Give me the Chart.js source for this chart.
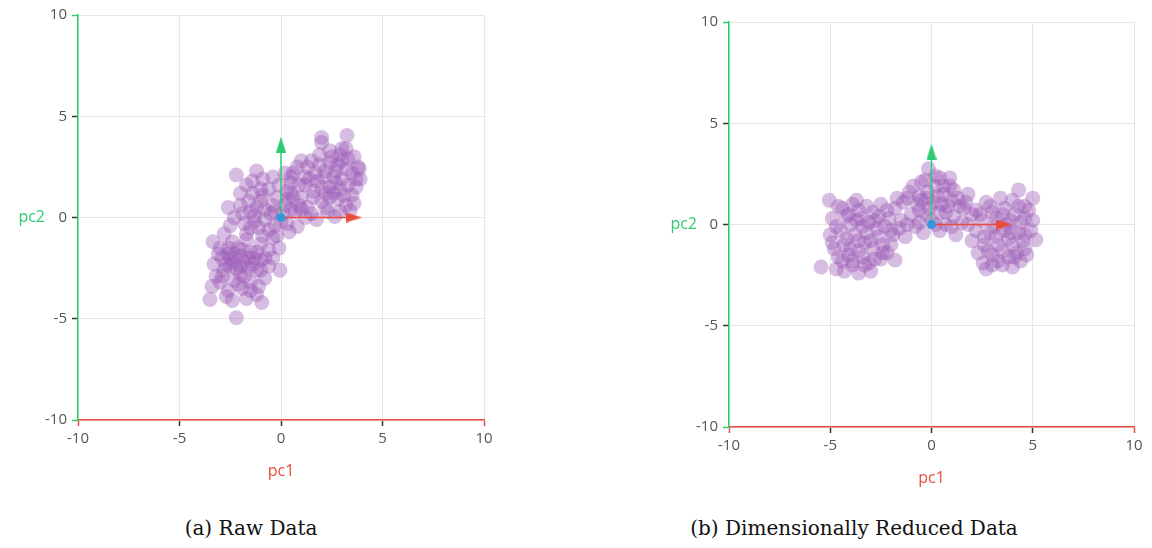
<!DOCTYPE html>
<html>
<head>
<meta charset="utf-8">
<script src="https://cdn.jsdelivr.net/npm/chart.js@4/dist/chart.umd.min.js"></script>
<style>
  body { margin: 0; background: #fff; width: 1152px; height: 548px; overflow: hidden; position: relative; }
  .box { position: absolute; top: 0; width: 500px; height: 500px; }
  .cap { position: absolute; top: 516px; font-family: "DejaVu Serif", serif; font-size: 20px; color: #111; transform: translateX(-50%); white-space: nowrap; }
</style>
</head>
<body>
<div class="box" style="left:0px"><canvas id="rawChart"></canvas></div>
<div class="box" style="left:650px"><canvas id="reducedChart"></canvas></div>
<div class="cap" style="left:251px">(a) Raw Data</div>
<div class="cap" style="left:854px">(b) Dimensionally Reduced Data</div>
<script>
// tick labels (both axes)
const tickValues = [-10, -5, 0, 5, 10];
const axisLabels = ['pc1', 'pc2'];

// (a) raw data, [pc1, pc2]
const rawPoints = [
  [-3.5,-4.05],[-2.2,-4.95],[-0.95,-4.2],[-1.2,-3.8],[-2.6,-3.6],[-1.9,-3.5],[-3.0,-3.2],[-2.3,-3.1],
  [-1.5,-3.2],[-0.8,-3.0],[-3.3,-2.3],[-2.8,-2.6],[-2.0,-2.8],[-1.2,-2.6],[-0.05,-2.6],[-3.35,-1.2],
  [-2.6,-1.8],[-1.8,-2.2],[-1.0,-2.1],[-2.3,-2.2],[-2.9,-2.0],[-1.5,-1.7],[-2.1,-1.5],[-0.6,-1.6],
  [-3.0,-1.5],[-2.4,-1.2],[-1.7,-1.1],[-1.0,-1.3],[-2.8,-0.8],[-0.4,-1.0],[-3.2,-2.9],[-2.5,-2.4],
  [-1.6,-2.5],[-2.0,-1.9],[-1.3,-2.0],[-0.6,-2.4],[-2.7,-3.9],[-1.7,-4.0],[-0.1,-1.5],
  [-2.2,-2.5],[-1.8,-2.9],[-2.5,-2.0],[-1.4,-2.3],[-2.1,-3.3],[-2.9,-2.9],[-1.1,-3.4],[-1.9,-1.6],
  [-2.6,-1.5],[-1.2,-1.7],[-0.8,-2.0],[-2.3,-1.8],[-1.6,-2.0],[-2.0,-2.4],[-2.7,-2.3],[-1.0,-2.6],
  [-3.1,-1.8],[-0.4,-2.0],[-1.5,-3.6],[-2.4,-4.1],[-3.4,-3.4],
  [-2.2,2.1],[-1.2,2.3],[-2.0,0.6],[-1.5,0.3],[-1.0,0.8],[-0.5,0.2],[-1.8,-0.3],[-1.1,-0.5],
  [-0.3,-0.4],[0.3,-0.3],[0.8,-0.45],[-2.3,0.0],[-1.4,1.2],[-0.6,1.4],[0.2,0.6],[0.6,1.0],
  [-0.2,1.0],[-1.7,1.6],[-0.9,1.9],[-2.5,-0.4],[-0.8,-0.1],[0.1,0.2],[-1.3,0.1],[-0.4,0.6],
  [-1.5,-0.5],[-0.9,-0.9],[-0.2,-0.9],[0.4,-0.7],[-1.6,0.8],[-0.8,0.4],[0.0,-0.2],[0.5,0.4],
  [-1.9,0.2],[-1.2,0.5],[-0.3,0.3],[0.9,0.6],[-2.0,1.2],[-1.0,1.4],[-0.1,1.6],[0.5,2.0],
  [-1.4,1.8],[-0.4,2.0],[-2.6,0.5],[-0.6,-0.6],[1.2,0.0],[-1.7,-0.8],[0.3,0.9],[-0.9,1.1],[-1.3,-0.2],
  [2.0,3.95],[3.25,4.05],[2.0,3.7],[3.0,3.4],[3.8,2.5],[3.85,2.4],[3.7,1.5],[3.4,0.35],
  [2.65,0.05],[1.75,-0.1],[2.5,3.0],[1.5,2.8],[0.8,2.5],[0.2,2.2],[2.8,2.6],[3.3,2.9],
  [2.2,2.3],[1.2,2.0],[0.5,1.7],[3.0,1.9],[2.4,1.5],[1.6,1.3],[1.0,1.0],[3.5,1.1],
  [2.8,0.9],[2.0,0.8],[1.3,0.5],[0.7,0.3],[3.2,0.6],[2.3,0.3],[1.8,1.8],[2.6,2.0],
  [1.0,2.8],[0.3,1.3],[3.5,2.2],[2.2,1.2],[1.5,0.2],[0.9,1.6],[2.9,1.4],[1.9,2.6],
  [3.9,1.9],[2.4,3.3],
  [1.3,2.5],[2.1,2.0],[2.7,2.3],[3.2,2.4],[1.7,2.2],[2.4,2.7],[3.0,2.8],[1.2,1.6],
  [2.0,1.5],[2.7,1.7],[3.3,1.6],[1.6,1.0],[2.4,1.0],[3.1,1.1],[0.6,2.2],[1.9,3.1],
  [2.9,3.1],[3.6,3.0],[3.7,1.9],[3.2,3.4],[2.2,0.5],[1.0,0.4],[0.5,1.2],[1.4,1.9],
  [2.6,1.2],[3.6,0.7],[2.9,0.3]
];

// (b) dimensionally reduced data, [pc1, pc2]
const reducedPoints = [
  [-5.45,-2.1],[-5.05,1.2],[-3.6,-2.4],[-4.4,-1.8],[-3.9,-2.0],[-3.1,-1.9],[-2.5,-1.7],[-4.8,-1.2],
  [-4.3,-1.0],[-3.6,-1.3],[-2.9,-1.2],[-2.2,-1.4],[-5.0,-0.5],[-4.5,-0.3],[-3.8,-0.5],[-3.2,-0.4],
  [-2.6,-0.6],[-1.9,-0.5],[-4.9,0.3],[-4.2,0.4],[-3.5,0.3],[-2.8,0.2],[-2.1,0.3],[-4.6,0.9],
  [-3.9,1.0],[-3.2,0.9],[-2.5,1.0],[-1.8,0.8],[-4.1,-1.5],[-3.3,-0.9],[-2.0,-1.0],[-1.8,-1.75],
  [-4.7,-2.2],[-3.0,-2.3],[-4.0,0.0],[-3.4,-0.1],[-2.3,-0.1],[-1.5,0.2],[-1.3,-0.6],[-2.9,0.6],
  [-4.6,-1.6],[-4.0,-1.2],[-3.4,-1.6],[-2.8,-1.7],[-4.2,-0.7],[-3.6,-0.8],[-3.0,-0.8],[-2.4,-1.0],
  [-4.7,-0.1],[-4.1,0.5],[-3.7,0.2],[-3.1,0.1],[-2.6,0.4],[-4.4,0.8],[-3.6,0.7],[-2.2,0.7],
  [-3.9,-1.8],[-3.3,-2.0],[-4.9,-0.9],[-2.7,-0.2],[-1.6,-0.2],[-2.0,-0.3],[-3.7,1.2],[-4.3,-2.3],[-2.4,-1.4],
  [-0.15,2.75],[0.4,2.3],[-0.5,2.1],[0.9,1.9],[-1.1,1.6],[-0.2,1.6],[0.6,1.5],[1.3,1.3],
  [-1.4,1.1],[-0.7,1.0],[0.1,1.1],[0.8,0.9],[1.6,0.8],[-1.0,0.5],[-0.3,0.5],[0.4,0.6],
  [1.1,0.4],[-0.8,-0.1],[0.0,0.2],[0.7,0.0],[1.5,0.1],[-0.4,-0.4],[0.4,-0.3],[1.2,-0.5],
  [-1.2,0.0],[0.2,1.9],[-0.6,1.4],[1.8,1.5],[-1.7,1.3],[2.0,0.5],
  [-0.9,1.9],[0.2,2.4],[-0.3,2.2],[0.6,1.9],[1.1,1.7],[-0.5,1.2],[0.3,1.4],[1.0,1.2],
  [-1.2,1.3],[0.7,0.6],[-0.1,0.8],[1.4,0.9],[-0.6,0.7],[0.2,0.0],[-0.6,0.1],[1.0,-0.1],
  [0.5,1.0],[-0.2,1.3],[1.7,1.1],[0.9,2.3],
  [4.3,1.7],[5.0,1.3],[5.15,-0.75],[2.55,-1.9],[3.5,-2.0],[2.2,0.7],[2.9,0.9],[3.6,0.8],
  [4.3,0.9],[2.5,0.2],[3.2,0.3],[3.9,0.2],[4.6,0.3],[2.2,-0.3],[2.9,-0.4],[3.6,-0.3],
  [4.3,-0.4],[4.9,-0.3],[2.6,-1.0],[3.3,-1.0],[4.0,-1.0],[4.6,-1.2],[3.0,-1.5],[3.8,-1.6],
  [4.4,-1.8],[2.0,-0.8],[3.4,1.3],[4.8,0.7],[2.7,-2.2],[4.0,-2.1],[1.8,0.0],[3.1,-0.1],
  [2.4,0.5],[3.0,0.6],[3.5,0.5],[4.1,0.5],[4.6,0.9],[2.6,-0.6],[3.2,-0.6],[3.8,-0.7],
  [4.5,-0.8],[2.8,-1.3],[3.5,-1.3],[4.2,-1.4],[3.3,-1.8],[4.1,-1.6],[4.7,-1.5],[2.3,-1.4],
  [3.7,0.0],[4.4,0.1],[5.0,0.2],[2.7,1.1],[4.0,1.2],[4.6,-0.5],[3.0,-2.0],[3.9,-0.4]
];

// principal component arrows: end of shaft in data units
const pc1Arrow = [3.6, 0];
const pc2Arrow = [0, 3.6];

const GREEN = '#2ecc71', RED = '#e74c3c', BLUE = '#3498db';
const FONT = '"Open Sans", sans-serif';

function headImage(color, pointRight) {
  const c = document.createElement('canvas');
  const w = pointRight ? 16 : 10, h = pointRight ? 10 : 16;
  c.width = w; c.height = h;
  const g = c.getContext('2d');
  g.fillStyle = color;
  g.beginPath();
  if (pointRight) { g.moveTo(0, 0); g.lineTo(w, h / 2); g.lineTo(0, h); }
  else { g.moveTo(0, h); g.lineTo(w / 2, 0); g.lineTo(w, h); }
  g.closePath();
  g.fill();
  return c;
}

const pc2Label = {
  id: 'pc2Label',
  afterDraw(chart, args, opts) {
    const y = chart.scales.y;
    const c = chart.ctx;
    c.save();
    c.font = '16px ' + FONT;
    c.fillStyle = GREEN;
    c.textAlign = 'right';
    c.textBaseline = 'middle';
    c.fillText(axisLabels[1], opts.x, y.getPixelForValue(0));
    c.restore();
  }
};

function makeChart(id, points, cfg) {
  const tickCol = (axisCol) => (ctx) => (ctx.tick && Math.abs(ctx.tick.value) === 10) ? axisCol : '#333';
  return new Chart(document.getElementById(id), {
    type: 'scatter',
    data: {
      datasets: [
        {
          data: points.map(p => ({ x: p[0], y: p[1] })),
          backgroundColor: 'rgba(155, 89, 182, 0.4)',
          borderWidth: 0,
          pointRadius: 7.5,
          pointHoverRadius: 7.5,
          order: 3
        },
        {
          data: [{ x: 0, y: 0 }, { x: pc2Arrow[0], y: pc2Arrow[1] }],
          showLine: true,
          borderColor: GREEN,
          borderWidth: 1.5,
          pointStyle: [false, headImage(GREEN, false)],
          pointRadius: [0, 8],
          order: 2
        },
        {
          data: [{ x: 0, y: 0 }, { x: pc1Arrow[0], y: pc1Arrow[1] }],
          showLine: true,
          borderColor: RED,
          borderWidth: 1.5,
          pointStyle: [false, headImage(RED, true)],
          pointRadius: [0, 8],
          order: 1
        },
        {
          data: [{ x: 0, y: 0 }],
          backgroundColor: BLUE,
          borderWidth: 0,
          pointRadius: 4.5,
          order: 0
        }
      ]
    },
    options: {
      responsive: true,
      maintainAspectRatio: false,
      animation: false,
      layout: { padding: { top: cfg.top, right: 16, left: 0, bottom: 0 } },
      plugins: {
        legend: { display: false },
        tooltip: { enabled: false },
        pc2Label: { x: cfg.labelX }
      },
      scales: {
        x: {
          min: -10, max: 10,
          afterBuildTicks: (s) => { s.ticks = tickValues.map(v => ({ value: v })); },
          afterFit: (s) => { s.height = cfg.xHeight; },
          border: { color: RED, width: 1.5 },
          grid: { color: '#e6e6e6', lineWidth: 1, tickLength: 6, tickColor: tickCol(RED), tickWidth: 1.5 },
          ticks: { padding: 4, color: '#555', font: { family: FONT, size: 15 } },
          title: { display: true, text: axisLabels[0], color: RED, padding: { top: 0, bottom: cfg.titlePad }, font: { family: FONT, size: 16 } }
        },
        y: {
          min: -10, max: 10,
          afterBuildTicks: (s) => { s.ticks = tickValues.map(v => ({ value: v })); },
          afterFit: (s) => { s.width = cfg.yWidth; },
          border: { color: GREEN, width: 1.5 },
          grid: { color: '#e6e6e6', lineWidth: 1, tickLength: 6, tickColor: tickCol(GREEN), tickWidth: 1.5 },
          ticks: { padding: 5, color: '#555', font: { family: FONT, size: 15 } }
        }
      }
    },
    plugins: [pc2Label]
  });
}

makeChart('rawChart', rawPoints, { top: 15, xHeight: 80, yWidth: 78, titlePad: 19, labelX: 45 });
makeChart('reducedChart', reducedPoints, { top: 22, xHeight: 73, yWidth: 79, titlePad: 12, labelX: 47 });
</script>
</body>
</html>
